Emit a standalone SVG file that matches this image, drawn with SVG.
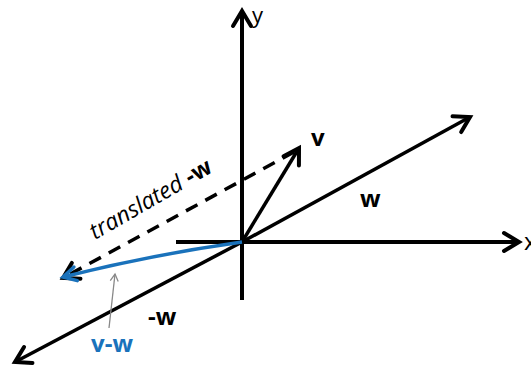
<svg xmlns="http://www.w3.org/2000/svg" width="531" height="366" viewBox="0 0 531 366">
<defs>
<style>
.ax{stroke:#000;stroke-width:4;fill:none}
.vec{stroke:#000;stroke-width:3.5;fill:none}
.lbl{font-family:"Open Sans","Noto Sans",sans-serif;font-size:24px;fill:#000}
.b{font-weight:bold}
</style>
<marker id="ah" markerUnits="userSpaceOnUse" viewBox="-20 -12 24 24" refX="0" refY="0" markerWidth="24" markerHeight="24" orient="auto">
<path d="M-15 -9 L0 0 L-15 9" fill="none" stroke="#000" stroke-width="4" stroke-linecap="round" stroke-linejoin="miter"/>
</marker>
<marker id="ahb" markerUnits="userSpaceOnUse" viewBox="-20 -12 24 24" refX="0" refY="0" markerWidth="24" markerHeight="24" orient="auto">
<path d="M-13 -7 L0 0 L-13 7" fill="none" stroke="#1a72bb" stroke-width="3.5" stroke-linecap="round"/>
</marker>
<marker id="ahg" markerUnits="userSpaceOnUse" viewBox="-10 -6 12 12" refX="0" refY="0" markerWidth="12" markerHeight="12" orient="auto">
<path d="M-7 -4 L0 0 L-7 4" fill="none" stroke="#888" stroke-width="1.3"/>
</marker>
</defs>
<rect width="531" height="366" fill="#fff"/>
<g id="connectors">
<line id="y-axis" class="ax" x1="242" y1="300" x2="242" y2="11" marker-end="url(#ah)"/>
<line id="x-axis" class="ax" x1="176" y1="242" x2="519" y2="242" marker-end="url(#ah)"/>
<line id="w" class="vec" x1="242" y1="242" x2="470" y2="117" marker-end="url(#ah)"/>
<line id="neg-w" class="vec" x1="242" y1="242" x2="15" y2="362" marker-end="url(#ah)"/>
<line id="v" class="vec" x1="242" y1="242" x2="299" y2="148" marker-end="url(#ah)"/>
<line id="translated" stroke="#000" stroke-width="3.5" stroke-dasharray="13 9" x1="294" y1="152" x2="63" y2="278" marker-end="url(#ah)"/>
<path id="v-minus-w" d="M242 242 Q150 255 63 277" fill="none" stroke="#1a72bb" stroke-width="3.5" marker-end="url(#ahb)"/>
<line id="pointer" stroke="#888" stroke-width="1.3" x1="109" y1="328" x2="115" y2="274" marker-end="url(#ahg)"/>
</g>
<g id="labels">
<text class="lbl" style="font-size:22px" x="252" y="23">y</text>
<text class="lbl" x="524" y="250">x</text>
<text class="lbl b" x="311" y="146">v</text>
<text class="lbl b" x="360" y="207">w</text>
<text class="lbl b" x="148" y="325">-w</text>
<text class="lbl b" x="91" y="352" style="fill:#1a72bb">v-w</text>
<text class="lbl" style="font-size:23px" transform="translate(95,240) rotate(-30)"><tspan font-style="italic">translated </tspan><tspan class="b">-w</tspan></text>
</g>
</svg>
